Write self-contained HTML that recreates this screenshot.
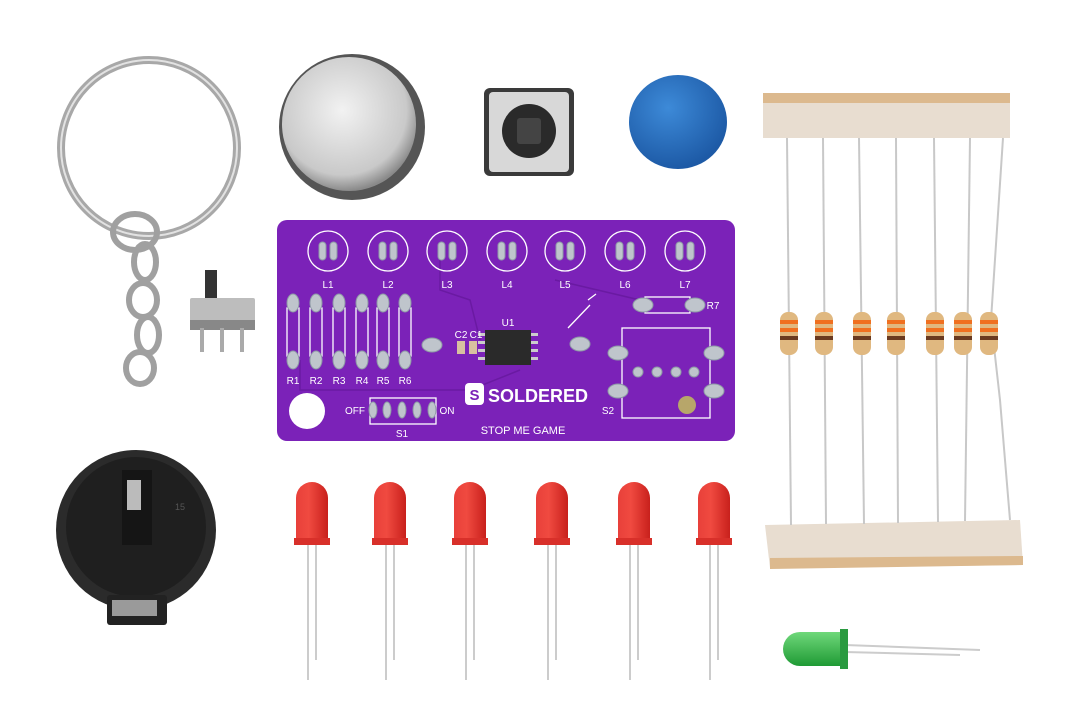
<!DOCTYPE html>
<html><head><meta charset="utf-8"><style>
html,body{margin:0;padding:0;background:#fff;}
svg{display:block;}
text{font-family:"Liberation Sans",sans-serif;}
</style></head><body>
<svg width="1080" height="721" viewBox="0 0 1080 721" xmlns="http://www.w3.org/2000/svg">
<defs>
<radialGradient id="coin" cx="45%" cy="40%" r="60%"><stop offset="0" stop-color="#f2f2f2"/><stop offset="0.8" stop-color="#c9c9c9"/><stop offset="1" stop-color="#8a8a8a"/></radialGradient>
<radialGradient id="blue" cx="40%" cy="35%" r="65%"><stop offset="0" stop-color="#3d8ad8"/><stop offset="1" stop-color="#1d5aa6"/></radialGradient>
<linearGradient id="red" x1="0" x2="1"><stop offset="0" stop-color="#e8403a"/><stop offset="0.4" stop-color="#f04a40"/><stop offset="1" stop-color="#c8201c"/></linearGradient>
<linearGradient id="green" x1="0" y1="0" x2="0" y2="1"><stop offset="0" stop-color="#6fd87a"/><stop offset="1" stop-color="#1f9a35"/></linearGradient>
<g id="pp" fill="#bfc5cc" stroke="#8e9aa6" stroke-width="1"><rect x="-9" y="-9" width="7" height="18" rx="3.5"/><rect x="2" y="-9" width="7" height="18" rx="3.5"/></g>
</defs>

<!-- keyring -->
<circle cx="149" cy="148" r="88" fill="none" stroke="#a8a8a8" stroke-width="8"/>
<circle cx="149" cy="148" r="88" fill="none" stroke="#e2e2e2" stroke-width="2"/>
<ellipse cx="135" cy="232" rx="22" ry="18" fill="none" stroke="#a0a0a0" stroke-width="6"/>
<ellipse cx="145" cy="262" rx="11" ry="18" fill="none" stroke="#a0a0a0" stroke-width="6"/>
<ellipse cx="143" cy="300" rx="14" ry="17" fill="none" stroke="#a0a0a0" stroke-width="6"/>
<ellipse cx="148" cy="335" rx="11" ry="18" fill="none" stroke="#a0a0a0" stroke-width="6"/>
<ellipse cx="140" cy="368" rx="14" ry="16" fill="none" stroke="#a0a0a0" stroke-width="6"/>

<!-- coin cell -->
<circle cx="352" cy="127" r="73" fill="#555"/>
<circle cx="349" cy="124" r="67" fill="url(#coin)"/>

<!-- tactile switch -->
<rect x="484" y="88" width="90" height="88" rx="6" fill="#3a3a3a"/>
<rect x="489" y="92" width="80" height="80" rx="4" fill="#d8d8d8"/>
<circle cx="529" cy="131" r="27" fill="#2a2a2a"/>
<rect x="517" y="118" width="24" height="26" rx="3" fill="#444"/>

<!-- blue cap -->
<ellipse cx="678" cy="122" rx="49" ry="47" fill="url(#blue)"/>

<!-- resistor tapes -->
<rect x="763" y="93" width="247" height="45" fill="#e8ddd0"/>
<rect x="763" y="93" width="247" height="10" fill="#dcb98e"/>
<polygon points="765,525 1020,520 1023,565 770,568" fill="#e8ddd0"/>
<polygon points="770,558 1023,556 1023,565 770,569" fill="#dcb98e"/>
<!-- resistors -->
<g stroke="#c8c8c8" stroke-width="2" fill="none">
<line x1="787" y1="138" x2="791" y2="525"/><line x1="823" y1="138" x2="826" y2="524"/>
<line x1="859" y1="138" x2="864" y2="524"/><line x1="896" y1="138" x2="898" y2="523"/>
<line x1="934" y1="138" x2="938" y2="522"/><line x1="970" y1="138" x2="965" y2="521"/>
<path d="M1003 138 L991 320 L1000 400 L1010 520"/>
</g>
<g>
<g transform="translate(789,0)"><rect x="-9" y="312" width="18" height="43" rx="8" fill="#e0b880"/><rect x="-9" y="320" width="18" height="4" fill="#f07020"/><rect x="-9" y="328" width="18" height="4" fill="#f07020"/><rect x="-9" y="336" width="18" height="4" fill="#6a3a20"/></g>
<g transform="translate(824,0)"><rect x="-9" y="312" width="18" height="43" rx="8" fill="#e0b880"/><rect x="-9" y="320" width="18" height="4" fill="#f07020"/><rect x="-9" y="328" width="18" height="4" fill="#f07020"/><rect x="-9" y="336" width="18" height="4" fill="#6a3a20"/></g>
<g transform="translate(862,0)"><rect x="-9" y="312" width="18" height="43" rx="8" fill="#e0b880"/><rect x="-9" y="320" width="18" height="4" fill="#f07020"/><rect x="-9" y="328" width="18" height="4" fill="#f07020"/><rect x="-9" y="336" width="18" height="4" fill="#6a3a20"/></g>
<g transform="translate(896,0)"><rect x="-9" y="312" width="18" height="43" rx="8" fill="#e0b880"/><rect x="-9" y="320" width="18" height="4" fill="#f07020"/><rect x="-9" y="328" width="18" height="4" fill="#f07020"/><rect x="-9" y="336" width="18" height="4" fill="#6a3a20"/></g>
<g transform="translate(935,0)"><rect x="-9" y="312" width="18" height="43" rx="8" fill="#e0b880"/><rect x="-9" y="320" width="18" height="4" fill="#f07020"/><rect x="-9" y="328" width="18" height="4" fill="#f07020"/><rect x="-9" y="336" width="18" height="4" fill="#6a3a20"/></g>
<g transform="translate(963,0)"><rect x="-9" y="312" width="18" height="43" rx="8" fill="#e0b880"/><rect x="-9" y="320" width="18" height="4" fill="#f07020"/><rect x="-9" y="328" width="18" height="4" fill="#f07020"/><rect x="-9" y="336" width="18" height="4" fill="#6a3a20"/></g>
<g transform="translate(989,0)"><rect x="-9" y="312" width="18" height="43" rx="8" fill="#e0b880"/><rect x="-9" y="320" width="18" height="4" fill="#f07020"/><rect x="-9" y="328" width="18" height="4" fill="#f07020"/><rect x="-9" y="336" width="18" height="4" fill="#6a3a20"/></g>
</g>

<!-- slide switch -->
<rect x="205" y="270" width="12" height="30" fill="#333"/>
<rect x="190" y="298" width="65" height="30" rx="2" fill="#bdbdbd"/>
<rect x="190" y="320" width="65" height="10" fill="#888"/>
<g fill="#aaa"><rect x="200" y="328" width="4" height="24"/><rect x="220" y="328" width="4" height="24"/><rect x="240" y="328" width="4" height="24"/></g>

<!-- PCB -->
<rect x="277" y="220" width="458" height="221" rx="10" fill="#7b22b8"/>
<g fill="none" stroke="#6a1aa2" stroke-width="1.5">
<path d="M300 360 L300 390 L470 390 L520 370"/><path d="M440 255 L440 290 L470 300 L480 340"/><path d="M555 280 L640 300"/>
</g>
<circle cx="307" cy="411" r="18" fill="#fff"/>
<g fill="none" stroke="#fff" stroke-width="1.3">
<circle cx="328" cy="251" r="20"/><circle cx="388" cy="251" r="20"/><circle cx="447" cy="251" r="20"/><circle cx="507" cy="251" r="20"/><circle cx="565" cy="251" r="20"/><circle cx="625" cy="251" r="20"/><circle cx="685" cy="251" r="20"/>
<rect x="287" y="308" width="12" height="48"/><rect x="310" y="308" width="12" height="48"/><rect x="333" y="308" width="12" height="48"/><rect x="356" y="308" width="12" height="48"/><rect x="377" y="308" width="12" height="48"/><rect x="399" y="308" width="12" height="48"/>
<rect x="645" y="297" width="45" height="16"/>
<rect x="622" y="328" width="88" height="90"/>
<rect x="370" y="398" width="66" height="26"/>
<path d="M568 328 L590 305 M588 300 l8 -6"/>
</g>
<use href="#pp" x="328" y="251"/><use href="#pp" x="388" y="251"/><use href="#pp" x="447" y="251"/><use href="#pp" x="507" y="251"/><use href="#pp" x="565" y="251"/><use href="#pp" x="625" y="251"/><use href="#pp" x="685" y="251"/>
<g fill="#bfc5cc" stroke="#8e9aa6" stroke-width="1">
<ellipse cx="293" cy="303" rx="6" ry="9"/><ellipse cx="316" cy="303" rx="6" ry="9"/><ellipse cx="339" cy="303" rx="6" ry="9"/><ellipse cx="362" cy="303" rx="6" ry="9"/><ellipse cx="383" cy="303" rx="6" ry="9"/><ellipse cx="405" cy="303" rx="6" ry="9"/>
<ellipse cx="293" cy="360" rx="6" ry="9"/><ellipse cx="316" cy="360" rx="6" ry="9"/><ellipse cx="339" cy="360" rx="6" ry="9"/><ellipse cx="362" cy="360" rx="6" ry="9"/><ellipse cx="383" cy="360" rx="6" ry="9"/><ellipse cx="405" cy="360" rx="6" ry="9"/>
<ellipse cx="432" cy="345" rx="10" ry="7"/><ellipse cx="580" cy="344" rx="10" ry="7"/>
<ellipse cx="643" cy="305" rx="10" ry="7"/><ellipse cx="695" cy="305" rx="10" ry="7"/>
<ellipse cx="618" cy="353" rx="10" ry="7"/><ellipse cx="714" cy="353" rx="10" ry="7"/><ellipse cx="618" cy="391" rx="10" ry="7"/><ellipse cx="714" cy="391" rx="10" ry="7"/>
<circle cx="638" cy="372" r="5"/><circle cx="657" cy="372" r="5"/><circle cx="676" cy="372" r="5"/><circle cx="694" cy="372" r="5"/>
<ellipse cx="373" cy="410" rx="4" ry="8"/><ellipse cx="387" cy="410" rx="4" ry="8"/><ellipse cx="402" cy="410" rx="4" ry="8"/><ellipse cx="417" cy="410" rx="4" ry="8"/><ellipse cx="432" cy="410" rx="4" ry="8"/>
</g>
<circle cx="687" cy="405" r="9" fill="#b7a66a"/>
<rect x="485" y="330" width="46" height="35" fill="#2a2a2a"/>
<g fill="#ccc"><rect x="478" y="333" width="7" height="3"/><rect x="478" y="341" width="7" height="3"/><rect x="478" y="349" width="7" height="3"/><rect x="478" y="357" width="7" height="3"/><rect x="531" y="333" width="7" height="3"/><rect x="531" y="341" width="7" height="3"/><rect x="531" y="349" width="7" height="3"/><rect x="531" y="357" width="7" height="3"/></g>
<rect x="457" y="341" width="8" height="13" fill="#d8c0a0"/><rect x="469" y="341" width="8" height="13" fill="#d8c0a0"/>
<g fill="#fff" font-size="10" text-anchor="middle">
<text x="328" y="288">L1</text><text x="388" y="288">L2</text><text x="447" y="288">L3</text><text x="507" y="288">L4</text><text x="565" y="288">L5</text><text x="625" y="288">L6</text><text x="685" y="288">L7</text>
<text x="293" y="384">R1</text><text x="316" y="384">R2</text><text x="339" y="384">R3</text><text x="362" y="384">R4</text><text x="383" y="384">R5</text><text x="405" y="384">R6</text>
<text x="461" y="338">C2</text><text x="476" y="338">C1</text><text x="508" y="326">U1</text>
<text x="713" y="309">R7</text><text x="608" y="414">S2</text>
<text x="355" y="414">OFF</text><text x="447" y="414">ON</text><text x="402" y="437">S1</text>
<text x="523" y="434" font-size="11">STOP ME GAME</text>
</g>
<rect x="465" y="383" width="19" height="22" rx="4" fill="#fff"/>
<text x="474.5" y="400" font-size="15" font-weight="bold" fill="#7b22b8" text-anchor="middle">S</text>
<text x="488" y="402" font-size="18" font-weight="bold" fill="#fff">SOLDERED</text>

<!-- battery holder -->
<circle cx="136" cy="530" r="80" fill="#2b2b2b"/>
<circle cx="136" cy="527" r="70" fill="#1f1f1f"/>
<rect x="107" y="595" width="60" height="30" rx="3" fill="#222"/>
<rect x="112" y="600" width="45" height="16" fill="#9a9a9a"/>
<rect x="122" y="470" width="30" height="75" fill="#151515"/>
<rect x="127" y="480" width="14" height="30" fill="#bbb"/>
<text x="175" y="510" font-size="9" fill="#555">15</text>

<!-- red LEDs -->
<g>
<g transform="translate(312,0)"><line x1="-4" y1="540" x2="-4" y2="680" stroke="#ccc" stroke-width="2"/><line x1="4" y1="540" x2="4" y2="660" stroke="#ccc" stroke-width="2"/><path d="M-16 545 L-16 498 A16 16 0 0 1 16 498 L16 545 Z" fill="url(#red)"/><rect x="-18" y="538" width="36" height="7" fill="#d8302a"/></g>
<g transform="translate(390,0)"><line x1="-4" y1="540" x2="-4" y2="680" stroke="#ccc" stroke-width="2"/><line x1="4" y1="540" x2="4" y2="660" stroke="#ccc" stroke-width="2"/><path d="M-16 545 L-16 498 A16 16 0 0 1 16 498 L16 545 Z" fill="url(#red)"/><rect x="-18" y="538" width="36" height="7" fill="#d8302a"/></g>
<g transform="translate(470,0)"><line x1="-4" y1="540" x2="-4" y2="680" stroke="#ccc" stroke-width="2"/><line x1="4" y1="540" x2="4" y2="660" stroke="#ccc" stroke-width="2"/><path d="M-16 545 L-16 498 A16 16 0 0 1 16 498 L16 545 Z" fill="url(#red)"/><rect x="-18" y="538" width="36" height="7" fill="#d8302a"/></g>
<g transform="translate(552,0)"><line x1="-4" y1="540" x2="-4" y2="680" stroke="#ccc" stroke-width="2"/><line x1="4" y1="540" x2="4" y2="660" stroke="#ccc" stroke-width="2"/><path d="M-16 545 L-16 498 A16 16 0 0 1 16 498 L16 545 Z" fill="url(#red)"/><rect x="-18" y="538" width="36" height="7" fill="#d8302a"/></g>
<g transform="translate(634,0)"><line x1="-4" y1="540" x2="-4" y2="680" stroke="#ccc" stroke-width="2"/><line x1="4" y1="540" x2="4" y2="660" stroke="#ccc" stroke-width="2"/><path d="M-16 545 L-16 498 A16 16 0 0 1 16 498 L16 545 Z" fill="url(#red)"/><rect x="-18" y="538" width="36" height="7" fill="#d8302a"/></g>
<g transform="translate(714,0)"><line x1="-4" y1="540" x2="-4" y2="680" stroke="#ccc" stroke-width="2"/><line x1="4" y1="540" x2="4" y2="660" stroke="#ccc" stroke-width="2"/><path d="M-16 545 L-16 498 A16 16 0 0 1 16 498 L16 545 Z" fill="url(#red)"/><rect x="-18" y="538" width="36" height="7" fill="#d8302a"/></g>
</g>

<!-- green LED -->
<line x1="845" y1="645" x2="980" y2="650" stroke="#ccc" stroke-width="2"/>
<line x1="845" y1="652" x2="960" y2="655" stroke="#ccc" stroke-width="2"/>
<path d="M848 632 L800 632 A17 17 0 0 0 800 666 L848 666 Z" fill="url(#green)"/>
<rect x="840" y="629" width="8" height="40" fill="#2a9a40"/>
</svg>
</body></html>
